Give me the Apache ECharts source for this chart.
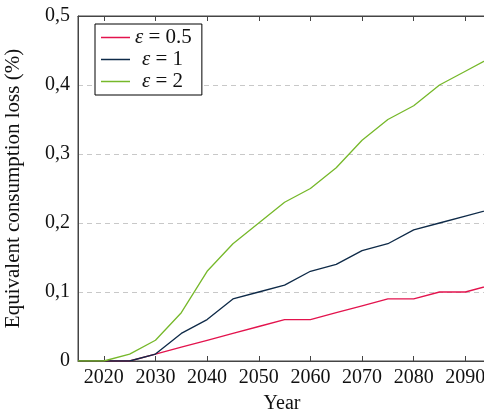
<!DOCTYPE html>
<html>
<head>
<meta charset="utf-8">
<script src="https://cdn.jsdelivr.net/npm/echarts@6/dist/echarts.min.js"></script>
<style>html,body{margin:0;padding:0;background:#fff}#c{width:484px;height:412px}</style>
</head>
<body>
<div id="c"></div>
<script>
const years = [2015, 2020, 2025, 2030, 2035, 2040, 2045, 2050, 2055, 2060, 2065, 2070, 2075, 2080, 2085, 2090, 2095];
const eps05 = [0, 0, 0, 0.01, 0.02, 0.03, 0.04, 0.05, 0.06, 0.06, 0.07, 0.08, 0.09, 0.09, 0.10, 0.10, 0.11];
const eps1  = [0, 0, 0, 0.01, 0.04, 0.06, 0.09, 0.10, 0.11, 0.13, 0.14, 0.16, 0.17, 0.19, 0.20, 0.21, 0.22];
const eps2  = [0, 0, 0.01, 0.03, 0.07, 0.13, 0.17, 0.20, 0.23, 0.25, 0.28, 0.32, 0.35, 0.37, 0.40, 0.42, 0.44];
const xTicks = [2020, 2030, 2040, 2050, 2060, 2070, 2080, 2090];
const seriesNames = ['ε = 0.5', 'ε = 1', 'ε = 2'];
const colors = ['#e3134d', '#0e2a48', '#76b82a'];

const font = '"Liberation Serif", "DejaVu Serif", serif';
const chart = echarts.init(document.getElementById('c'), null, {renderer: 'canvas'});
const pair = arr => years.map((y, i) => [y, arr[i]]);
const data = [eps05, eps1, eps2];

chart.setOption({
  animation: false,
  backgroundColor: '#fff',
  grid: {left: 78, top: 16, right: -2, bottom: 51, show: true, borderColor: '#444', borderWidth: 1,
    containLabel: false, outerBoundsMode: 'none'},
  legend: {
    left: 95, top: 24,
    orient: 'vertical',
    data: seriesNames,
    icon: 'rect',
    itemWidth: 29, itemHeight: 1.5,
    itemGap: 1,
    padding: [3, 10, 3, 6],
    borderColor: '#000', borderWidth: 1,
    backgroundColor: '#fff',
    formatter: function (n) {
      const rest = n.slice(1);
      if (n === 'ε = 0.5') return '{e|ε}{t|' + rest + '}';
      return '{ei|ε}{t|' + rest + '}';
    },
    textStyle: {
      fontFamily: font, fontSize: 21, color: '#111',
      rich: {
        e: {fontFamily: font, fontSize: 21, fontStyle: 'italic', color: '#111'},
        ei: {fontFamily: font, fontSize: 21, fontStyle: 'italic', color: '#111', padding: [0, 0, 0, 7]},
        t: {fontFamily: font, fontSize: 21, color: '#111'}
      }
    }
  },
  xAxis: [{
    type: 'value', min: 2015, max: 2094, position: 'bottom', gridIndex: 0,
    name: 'Year', nameLocation: 'middle', nameGap: 33,
    nameTextStyle: {fontFamily: font, fontSize: 20, color: '#111'},
    axisLine: {show: true, lineStyle: {color: '#444', width: 1}},
    axisTick: {show: true, inside: true, length: 5, customValues: xTicks, lineStyle: {color: '#444'}},
    axisLabel: {customValues: xTicks, fontFamily: font, fontSize: 20, color: '#111', margin: 7,
      formatter: v => String(v)},
    splitLine: {show: false}
  }, {
    type: 'value', min: 2015, max: 2094, position: 'top', gridIndex: 0, show: true,
    axisLine: {show: true, onZero: false, lineStyle: {color: '#444', width: 1}},
    axisTick: {show: true, inside: true, length: 5, customValues: xTicks, lineStyle: {color: '#444'}},
    axisLabel: {show: false, customValues: xTicks},
    splitLine: {show: false}
  }],
  yAxis: {
    type: 'value', min: 0, max: 0.5, interval: 0.1,
    name: 'Equivalent consumption loss (%)', nameLocation: 'middle', nameGap: 54,
    nameTextStyle: {fontFamily: font, fontSize: 21, color: '#111'},
    axisLine: {show: true, lineStyle: {color: '#444', width: 1}},
    axisTick: {show: false},
    axisLabel: {
      fontFamily: font, fontSize: 20, color: '#111', margin: 8,
      formatter: v => v === 0 ? '0' : v.toFixed(1).replace('.', ',')
    },
    splitLine: {show: true, lineStyle: {color: '#c8c8c8', type: [5, 4], width: 1}}
  },
  series: seriesNames.map((n, i) => ({
    name: n, type: 'line', data: pair(data[i]),
    xAxisIndex: i === 2 ? 1 : 0,
    symbol: 'none', clip: true,
    lineStyle: {color: colors[i], width: 1.3},
    itemStyle: {color: colors[i]}
  }))
});
</script>
</body>
</html>
